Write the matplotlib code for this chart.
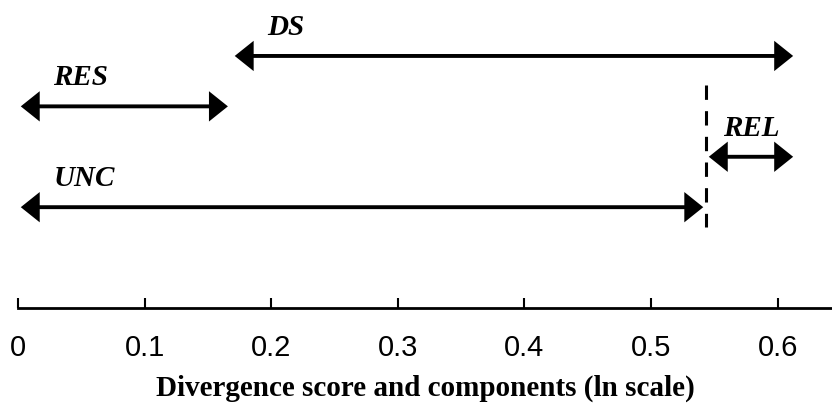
import matplotlib.pyplot as plt

# divergence score decomposition (ln scale)
names = ['DS', 'RES', 'REL', 'UNC']
starts = [0.169, 0.0, 0.5435, 0.0]
ends = [0.6145, 0.168, 0.6145, 0.5435]
rows = [0, 1, 2, 3]
ticks = [0, 0.1, 0.2, 0.3, 0.4, 0.5, 0.6]
unc_value = 0.5435

plt.rcParams['font.family'] = 'Liberation Serif'

fig = plt.figure(figsize=(8.32, 4.03), dpi=100)
ax = fig.add_axes([18 / 832, 95 / 403, 1 - 18 / 832, 308 / 403])
ax.set_xlim(0, 0.643)
ax.set_ylim(5, -1.11)

for name, x0, x1, r in zip(names, starts, ends, rows):
    ax.annotate('', xy=(x1, r), xytext=(x0, r),
                arrowprops=dict(arrowstyle='<|-|>,head_length=0.5,head_width=0.4',
                                lw=2.8, color='k', mutation_scale=20,
                                joinstyle='miter', capstyle='butt',
                                shrinkA=2, shrinkB=2),
                annotation_clip=False)
    if name == 'REL':
        ax.text((x0 + x1) / 2, r - 0.57, name, ha='center', va='center',
                fontsize=21, fontweight='bold', fontstyle='italic')
    else:
        ax.text(x0 + 0.028, r - 0.57, name, ha='left', va='center',
                fontsize=21, fontweight='bold', fontstyle='italic')

ax.plot([unc_value, unc_value], [0.57, 3.4], color='k', lw=2.2,
        linestyle=(0, (4.7, 3.7)), solid_capstyle='butt', dash_capstyle='butt')

for s in ['left', 'right', 'top']:
    ax.spines[s].set_visible(False)
ax.spines['bottom'].set_linewidth(2)
ax.set_yticks([])
ax.set_xticks(ticks)
ax.set_xticklabels(['0' if t == 0 else f'{t:.1f}' for t in ticks],
                   fontfamily='Liberation Sans', fontsize=21)
ax.tick_params(axis='x', direction='in', length=7.5, width=1.5, pad=19)
ax.set_xlabel('Divergence score and components (ln scale)', fontsize=21,
              fontweight='bold', labelpad=9)

fig.savefig('out.png', dpi=100)
